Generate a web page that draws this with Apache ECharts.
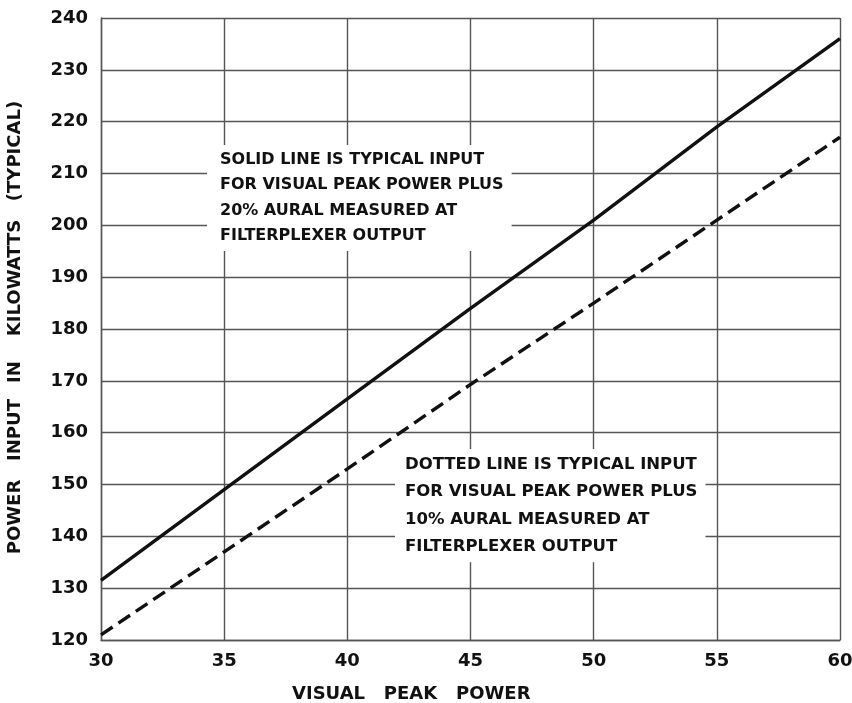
<!DOCTYPE html>
<html>
<head>
<meta charset="utf-8">
<style>
  html, body { margin: 0; padding: 0; background: #fff; }
  #chart { width: 852px; height: 703px; }
</style>
<script src="https://cdn.jsdelivr.net/npm/echarts@6/dist/echarts.min.js"></script>
</head>
<body>
<div id="chart"></div>
<script>
// Visual peak power (kW) at which the input was read
const visualPeak = [30, 35, 40, 45, 50, 55, 60];
// Input power, kW, visual plus 20% aural (solid line)
const input20 = [131.5, 149, 166.5, 184, 201, 219, 236];
// Input power, kW, visual plus 10% aural (dashed line)
const input10 = [121, 137, 153, 169.3, 185, 201, 217];

const xTitle = 'VISUAL   PEAK   POWER';
const yTitleWords = ['POWER', 'INPUT', 'IN', 'KILOWATTS', '(TYPICAL)'];
const noteSolid = ['SOLID LINE IS TYPICAL INPUT', 'FOR VISUAL PEAK POWER PLUS', '20% AURAL MEASURED AT', 'FILTERPLEXER OUTPUT'];
const noteDotted = ['DOTTED LINE IS TYPICAL INPUT', 'FOR VISUAL PEAK POWER PLUS', '10% AURAL MEASURED AT', 'FILTERPLEXER OUTPUT'];

const FONT = '"DejaVu Sans", "Liberation Sans", sans-serif';
const INK = '#111';
const GRID = '#555';

const chart = echarts.init(document.getElementById('chart'), null, { renderer: 'canvas' });

const pairs = arr => visualPeak.map((x, i) => [x, arr[i]]);

// Word centres (px) along the vertical axis title, read bottom to top
const yWordCenters = [517, 430, 372, 278, 151];

const option = {
  animation: false,
  backgroundColor: '#fff',
  grid: { left: 101, right: 12, top: 18, bottom: 63, containLabel: false, outerBoundsMode: 'none' },
  xAxis: {
    type: 'value',
    min: 30, max: 60, interval: 5,
    axisLine: { show: true, lineStyle: { color: GRID, width: 1.4 } },
    axisTick: { show: false },
    axisLabel: { fontFamily: FONT, fontWeight: 'bold', fontSize: 18, color: INK, margin: 12 },
    splitLine: { show: true, lineStyle: { color: GRID, width: 1.4 } }
  },
  yAxis: {
    type: 'value',
    min: 120, max: 240, interval: 10,
    axisLine: { show: true, lineStyle: { color: GRID, width: 1.4 } },
    axisTick: { show: false },
    axisLabel: { fontFamily: FONT, fontWeight: 'bold', fontSize: 18, color: INK, margin: 13 },
    splitLine: { show: true, lineStyle: { color: GRID, width: 1.4 } }
  },
  series: [
    {
      name: '20% aural',
      type: 'line',
      data: pairs(input20),
      showSymbol: false,
      lineStyle: { color: INK, width: 3.4 },
      z: 3
    },
    {
      name: '10% aural',
      type: 'line',
      data: pairs(input10),
      showSymbol: false,
      lineStyle: { color: INK, width: 3.4, type: [14, 7] },
      z: 3
    }
  ],
  graphic: [
    {
      type: 'text',
      left: 207, top: 145,
      z: 10,
      style: {
        text: noteSolid.join('\n'),
        font: 'bold 16px ' + FONT,
        fill: INK,
        lineHeight: 25.5,
        backgroundColor: '#fff',
        padding: [2, 8, 2, 13]
      }
    },
    {
      type: 'text',
      left: 395, top: 449,
      z: 10,
      style: {
        text: noteDotted.join('\n'),
        font: 'bold 16.5px ' + FONT,
        fill: INK,
        lineHeight: 27.3,
        backgroundColor: '#fff',
        padding: [2, 8, 2, 10]
      }
    },
    {
      type: 'text',
      x: 292, y: 694,
      style: {
        text: xTitle,
        font: 'bold 18px ' + FONT,
        fill: INK,
        align: 'left',
        verticalAlign: 'middle'
      }
    }
  ].concat(yWordCenters.map((cy, i) => ({
    type: 'text',
    x: 15, y: cy,
    rotation: Math.PI / 2,
    style: {
      text: yTitleWords[i],
      font: 'bold 18px ' + FONT,
      fill: INK,
      align: 'center',
      verticalAlign: 'middle'
    }
  })))
};

chart.setOption(option);
</script>
</body>
</html>
